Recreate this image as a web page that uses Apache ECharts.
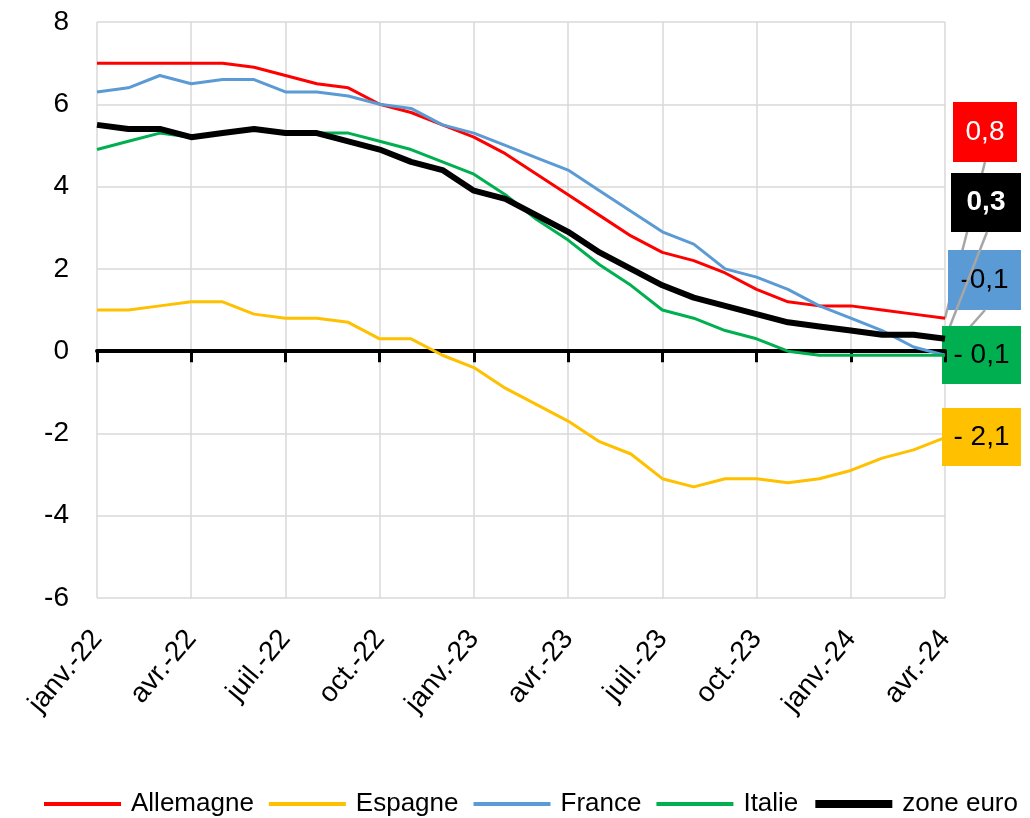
<!DOCTYPE html>
<html>
<head>
<meta charset="utf-8">
<script src="https://cdn.jsdelivr.net/npm/echarts@6/dist/echarts.min.js"></script>
<style>
html,body{margin:0;padding:0;background:#fff}
#chart{width:1030px;height:818px}
</style>
</head>
<body>
<div id="chart"></div>
<script>
// mois (un point par mois, seuls les trimestres sont étiquetés)
const mois = ['janv.-22','févr.-22','mars-22','avr.-22','mai-22','juin-22','juil.-22','août-22','sept.-22','oct.-22','nov.-22','déc.-22',
  'janv.-23','févr.-23','mars-23','avr.-23','mai-23','juin-23','juil.-23','août-23','sept.-23','oct.-23','nov.-23','déc.-23',
  'janv.-24','févr.-24','mars-24','avr.-24'];

const allemagne = [7.0,7.0,7.0,7.0,7.0,6.9,6.7,6.5,6.4,6.0,5.8,5.5,5.2,4.8,4.3,3.8,3.3,2.8,2.4,2.2,1.9,1.5,1.2,1.1,1.1,1.0,0.9,0.8];
const espagne   = [1.0,1.0,1.1,1.2,1.2,0.9,0.8,0.8,0.7,0.3,0.3,-0.1,-0.4,-0.9,-1.3,-1.7,-2.2,-2.5,-3.1,-3.3,-3.1,-3.1,-3.2,-3.1,-2.9,-2.6,-2.4,-2.1];
const france    = [6.3,6.4,6.7,6.5,6.6,6.6,6.3,6.3,6.2,6.0,5.9,5.5,5.3,5.0,4.7,4.4,3.9,3.4,2.9,2.6,2.0,1.8,1.5,1.1,0.8,0.5,0.1,-0.1];
const italie    = [4.9,5.1,5.3,5.2,5.3,5.4,5.3,5.3,5.3,5.1,4.9,4.6,4.3,3.8,3.2,2.7,2.1,1.6,1.0,0.8,0.5,0.3,0.0,-0.1,-0.1,-0.1,-0.1,-0.1];
const zoneEuro  = [5.5,5.4,5.4,5.2,5.3,5.4,5.3,5.3,5.1,4.9,4.6,4.4,3.9,3.7,3.3,2.9,2.4,2.0,1.6,1.3,1.1,0.9,0.7,0.6,0.5,0.4,0.4,0.3];

const yMin = -6, yMax = 8, yPas = 2;

const police = "'Liberation Sans', Arial, sans-serif";

const series = [
  {name:'Allemagne', data:allemagne, color:'#ff0000', width:3},
  {name:'Espagne',   data:espagne,   color:'#ffc000', width:3},
  {name:'France',    data:france,    color:'#5b9bd5', width:3},
  {name:'Italie',    data:italie,    color:'#00b050', width:3},
  {name:'zone euro', data:zoneEuro,  color:'#000000', width:6}
];

let mycharts = echarts.init(document.getElementById('chart'));

let options = {
  animation: false,
  backgroundColor: '#fff',
  grid: {
    left: 97,
    right: 85,
    top: 22,
    bottom: 220,
    containLabel: false,
    outerBoundsMode: 'none'
  },
  legend: {
    left: 42,
    top: 791,
    width: 1000,
    padding: 0,
    itemWidth: 77,
    itemHeight: 1,   // symbole du milieu quasi invisible
    itemGap: 13,
    lineStyle: { width: 4 },
    textStyle: { fontFamily: police, fontSize: 26, color: '#000', padding: [0,0,0,5] },
    data: series.map(s => s.name === 'zone euro'
      ? { name: s.name, lineStyle: { width: 8 } }
      : { name: s.name })
  },
  xAxis: [
    { // ligne du zéro avec les graduations
      type: 'category',
      data: mois,
      boundaryGap: false,
      axisLine: { onZero: true, lineStyle: { color: '#000', width: 4 } },
      axisTick: { show: true, interval: 2, length: 11, lineStyle: { color: '#000', width: 3 } },
      axisLabel: { show: false },
      splitLine: { show: true, interval: 2, lineStyle: { color: '#d9d9d9', width: 1.5 } }
    },
    { // étiquettes en bas
      type: 'category',
      data: mois,
      boundaryGap: false,
      position: 'bottom',
      axisLine: { show: false, onZero: false },
      axisTick: { show: false },
      splitLine: { show: false },
      axisLabel: {
        interval: 2,
        rotate: 50,
        margin: 36,
        fontFamily: police,
        fontSize: 28,
        color: '#000'
      }
    }
  ],
  yAxis: {
    type: 'value',
    min: yMin,
    max: yMax,
    interval: yPas,
    axisLine: { show: false },
    axisTick: { show: false },
    axisLabel: { fontFamily: police, fontSize: 28, color: '#000', margin: 28 },
    splitLine: { lineStyle: { color: '#d9d9d9', width: 1.5 } }
  },
  series: series.map(s => ({
    name: s.name,
    type: 'line',
    xAxisIndex: 0,
    data: s.data,
    symbol: 'none',
    showSymbol: false,
    color: s.color,
    lineStyle: { color: s.color, width: s.width }
  }))
};

mycharts.setOption(options, true);

// étiquettes de fin de courbe (positions des encadrés fixes, valeurs lues dans les séries)
function fmt(v, espace) {
  let t = Math.abs(v).toFixed(1).replace('.', ',');
  if (v < 0) return (espace ? '- ' : '-') + t;
  return t;
}
const boites = [
  {serie:0, x:953, y:102, w:64, h:60, fond:'#ff0000', couleur:'#fff', gras:false, espace:true,  ancre:[985,162]},
  {serie:4, x:951, y:173, w:70, h:59, fond:'#000000', couleur:'#fff', gras:true,  espace:true,  ancre:[987,232]},
  {serie:2, x:948, y:250, w:73, h:60, fond:'#5b9bd5', couleur:'#000', gras:false, espace:false, ancre:[985,310]},
  {serie:3, x:942, y:326, w:79, h:58, fond:'#00b050', couleur:'#000', gras:false, espace:true,  ancre:null},
  {serie:1, x:942, y:408, w:79, h:58, fond:'#ffc000', couleur:'#000', gras:false, espace:true,  ancre:null}
];

function finDeCourbe(i) {
  let d = series[i].data;
  return mycharts.convertToPixel({ seriesIndex: i }, [d.length - 1, d[d.length - 1]]);
}
function trait(b) {
  let p = finDeCourbe(b.serie);
  return { type: 'line', shape: { x1: b.ancre[0], y1: b.ancre[1], x2: p[0], y2: p[1] },
           style: { stroke: '#a6a6a6', lineWidth: 2.5 } };
}
function boite(b) {
  let d = series[b.serie].data;
  return { type: 'group', children: [
    { type: 'rect', shape: { x: b.x, y: b.y, width: b.w, height: b.h }, style: { fill: b.fond } },
    { type: 'text', x: b.x + b.w / 2, y: b.y + b.h / 2,
      style: { text: fmt(d[d.length - 1], b.espace), fill: b.couleur, fontFamily: police,
               fontSize: 28, fontWeight: b.gras ? 'bold' : 'normal',
               align: 'center', verticalAlign: 'middle' } }
  ]};
}

mycharts.setOption({
  graphic: [
    trait(boites[0]),
    boite(boites[0]),
    boite(boites[1]),
    boite(boites[2]),
    trait(boites[1]),
    trait(boites[2]),
    boite(boites[3]),
    boite(boites[4])
  ]
});
</script>
</body>
</html>
